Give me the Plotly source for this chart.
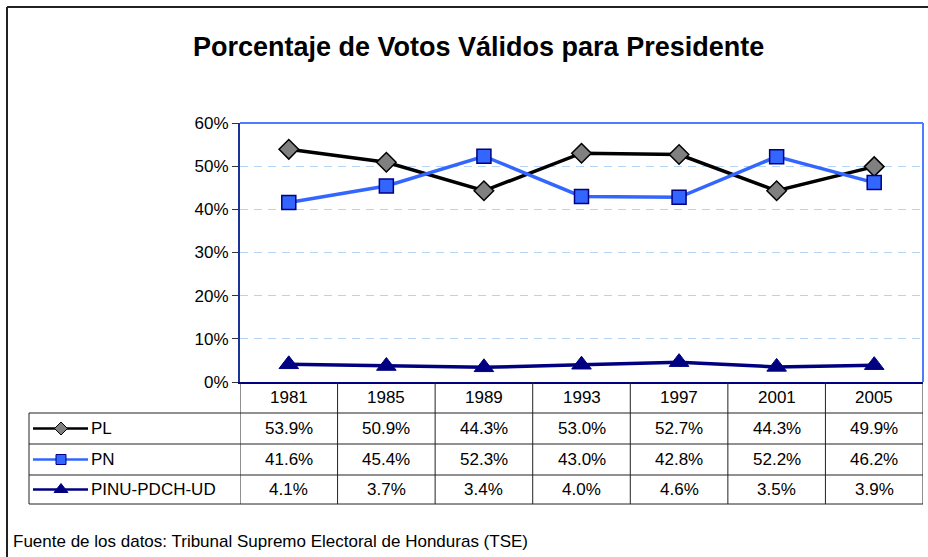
import plotly.graph_objects as go

# ---- data -------------------------------------------------------------
years = ["1981", "1985", "1989", "1993", "1997", "2001", "2005"]
pl = [53.9, 50.9, 44.3, 53.0, 52.7, 44.3, 49.9]
pn = [41.6, 45.4, 52.3, 43.0, 42.8, 52.2, 46.2]
pinu = [4.1, 3.7, 3.4, 4.0, 4.6, 3.5, 3.9]
series_names = ["PL", "PN", "PINU-PDCH-UD"]
y_ticks = [0, 10, 20, 30, 40, 50, 60]

title_text = "Porcentaje de Votos Válidos para Presidente"
source_text = "Fuente de los datos: Tribunal Supremo Electoral de Honduras (TSE)"

# ---- canvas geometry (pixels) -----------------------------------------
W, H = 928, 557
PLOT_L, PLOT_R, PLOT_T, PLOT_B = 240, 923, 123, 382
TABLE_L = 29
ROW_LINES = [413, 444, 475, 504]       # bottom of header, then of each series row
FONT = "Liberation Sans, Arial, sans-serif"


def xp(px):
    return px / W


def yp(py):
    return 1 - py / H


styles = [
    dict(line=dict(color="#000000", width=3.5),
         marker=dict(symbol="diamond", size=15, color="#808080",
                     line=dict(color="#000000", width=1.5))),
    dict(line=dict(color="#3366FF", width=3.5),
         marker=dict(symbol="square", size=14, color="#3366FF",
                     line=dict(color="#000080", width=1.5))),
    dict(line=dict(color="#000080", width=3.5),
         marker=dict(symbol="triangle-up", size=17, color="#000080",
                     line=dict(color="#000080", width=1))),
]

fig = go.Figure()
x_idx = list(range(len(years)))
for name, vals, st in zip(series_names, [pl, pn, pinu], styles):
    fig.add_trace(go.Scatter(x=x_idx, y=vals, name=name, mode="lines+markers",
                             line=st["line"], marker=st["marker"],
                             xaxis="x", yaxis="y", cliponaxis=False))

# legend keys inside the data table: a small key axis covering the label column
row_centers = [(ROW_LINES[i] + ROW_LINES[i + 1]) / 2 for i in range(3)]
key_styles = [
    dict(line=dict(color="#000000", width=2.5),
         marker=dict(symbol="diamond", size=10, color="#808080",
                     line=dict(color="#000000", width=1))),
    dict(line=dict(color="#3366FF", width=2.5),
         marker=dict(symbol="square", size=10, color="#3366FF",
                     line=dict(color="#000080", width=1))),
    dict(line=dict(color="#000080", width=2.5),
         marker=dict(symbol="triangle-up", size=12, color="#000080",
                     line=dict(color="#000080", width=1))),
]
for cy, st in zip(row_centers, key_styles):
    fig.add_trace(go.Scatter(x=[33, 88], y=[cy, cy], mode="lines", line=st["line"],
                             xaxis="x2", yaxis="y2", hoverinfo="skip", cliponaxis=False))
    fig.add_trace(go.Scatter(x=[61], y=[cy], mode="markers", marker=st["marker"],
                             xaxis="x2", yaxis="y2", hoverinfo="skip", cliponaxis=False))

shapes = []
# outer chart frame (left and top edges)
shapes.append(dict(type="line", xref="paper", yref="paper",
                   x0=xp(7), y0=yp(H), x1=xp(7), y1=yp(7),
                   line=dict(color="#222222", width=2)))
shapes.append(dict(type="line", xref="paper", yref="paper",
                   x0=xp(7), y0=yp(7), x1=xp(W), y1=yp(7),
                   line=dict(color="#222222", width=2)))
# plot area border (top and right)
shapes.append(dict(type="line", xref="paper", yref="paper",
                   x0=xp(PLOT_L), y0=yp(PLOT_T), x1=xp(PLOT_R), y1=yp(PLOT_T),
                   line=dict(color="#4D7DFF", width=2)))
shapes.append(dict(type="line", xref="paper", yref="paper",
                   x0=xp(PLOT_R), y0=yp(PLOT_T), x1=xp(PLOT_R), y1=yp(PLOT_B),
                   line=dict(color="#4D7DFF", width=2)))

# data table grid
tbl = dict(color="#222222", width=1)
for k in range(len(years) + 1):
    shapes.append(dict(type="line", xref="x", yref="paper",
                       x0=k - 0.5, x1=k - 0.5, y0=yp(PLOT_B), y1=yp(ROW_LINES[-1]),
                       line=tbl))
shapes.append(dict(type="line", xref="paper", yref="paper",
                   x0=xp(TABLE_L), x1=xp(TABLE_L), y0=yp(ROW_LINES[0]), y1=yp(ROW_LINES[-1]),
                   line=tbl))
for ry in ROW_LINES:
    shapes.append(dict(type="line", xref="paper", yref="paper",
                       x0=xp(TABLE_L), x1=xp(PLOT_R), y0=yp(ry), y1=yp(ry), line=tbl))

annotations = []
annotations.append(dict(text=title_text, xref="paper", yref="paper",
                        x=xp(478), y=yp(47), xanchor="center", yanchor="middle",
                        showarrow=False,
                        font=dict(family=FONT, size=27, color="black", weight="bold")))
annotations.append(dict(text=source_text, xref="paper", yref="paper",
                        x=xp(11), y=yp(541), xanchor="left", yanchor="middle",
                        showarrow=False, font=dict(family=FONT, size=17, color="black")))
# header years
header_cy = (PLOT_B + ROW_LINES[0]) / 2
for i, yr in enumerate(years):
    annotations.append(dict(text=yr, xref="x", yref="paper", x=i, y=yp(header_cy),
                            xanchor="center", yanchor="middle", showarrow=False,
                            font=dict(family=FONT, size=17, color="black")))
# series rows
for cy, name, vals in zip(row_centers, series_names, [pl, pn, pinu]):
    annotations.append(dict(text=name, xref="paper", yref="paper", x=xp(89), y=yp(cy),
                            xanchor="left", yanchor="middle", showarrow=False,
                            font=dict(family=FONT, size=17, color="black")))
    for i, v in enumerate(vals):
        annotations.append(dict(text=f"{v:.1f}%", xref="x", yref="paper", x=i, y=yp(cy),
                                xanchor="center", yanchor="middle", showarrow=False,
                                font=dict(family=FONT, size=17, color="black")))

fig.update_layout(
    width=W, height=H,
    autosize=False,
    margin=dict(l=0, r=0, t=0, b=0, pad=0, autoexpand=False),
    paper_bgcolor="white", plot_bgcolor="rgba(0,0,0,0)",
    showlegend=False,
    font=dict(family=FONT, size=17, color="black"),
    xaxis=dict(domain=[xp(PLOT_L), xp(PLOT_R)], range=[-0.5, len(years) - 0.5],
               showticklabels=False, ticks="", showgrid=False, zeroline=False,
               showline=True, linecolor="#000080", linewidth=2, fixedrange=True,
               anchor="y"),
    yaxis=dict(domain=[yp(PLOT_B), yp(PLOT_T)], range=[0, 60],
               tickvals=y_ticks, ticktext=[f"{t}%" for t in y_ticks],
               ticks="outside", ticklen=6, tickcolor="#333333", tickwidth=1,
               showgrid=True, gridcolor="#B3D4F5", gridwidth=1, griddash="8px,6px",
               zeroline=False, showline=True, linecolor="#1A3399", linewidth=2,
               tickfont=dict(family=FONT, size=17, color="black"), fixedrange=True,
               anchor="x", automargin=False),
    xaxis2=dict(domain=[xp(TABLE_L), xp(PLOT_L)], range=[TABLE_L, PLOT_L],
                visible=False, anchor="y2", fixedrange=True),
    yaxis2=dict(domain=[yp(ROW_LINES[-1]), yp(ROW_LINES[0])],
                range=[ROW_LINES[-1], ROW_LINES[0]],
                visible=False, anchor="x2", fixedrange=True),
    shapes=shapes,
    annotations=annotations,
)

fig.write_html("out.html")
